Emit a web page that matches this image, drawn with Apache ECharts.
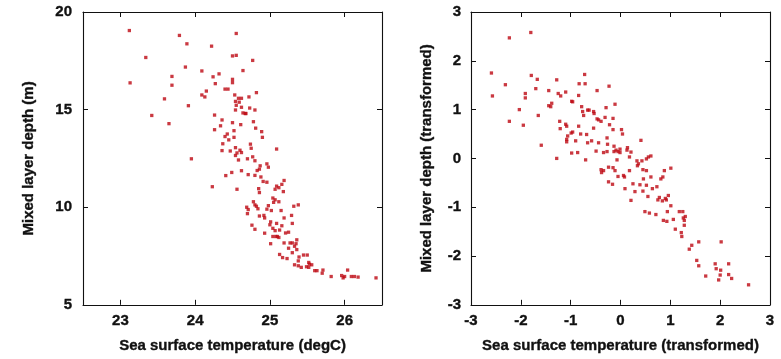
<!DOCTYPE html>
<html>
<head>
<meta charset="utf-8">
<script src="https://cdn.jsdelivr.net/npm/echarts@6/dist/echarts.min.js"></script>
<style>
  html, body { margin: 0; padding: 0; background: #ffffff; }
  #chart { width: 781px; height: 359px; }
</style>
</head>
<body>
<div id="chart"></div>
<script>
// Left panel: raw sea surface temperature (degC) vs mixed layer depth (m)
const sstRaw = [
  23.12, 23.13, 23.34, 23.42, 23.59, 23.65, 23.69, 23.69, 23.79, 23.89,
  23.87, 23.91, 23.95, 24.09, 24.09, 24.13, 24.15, 24.22, 24.24, 24.27,
  24.32, 24.26, 24.26, 24.36, 24.34, 24.40, 24.44, 24.37, 24.36, 24.40,
  24.43, 24.41, 24.23, 24.47, 24.49, 24.50, 24.50, 24.50, 24.50, 24.55,
  24.55, 24.53, 24.54, 24.55, 24.54, 24.58, 24.59, 24.62, 24.62, 24.64,
  24.67, 24.61, 24.52, 24.52, 24.54, 24.56, 24.54, 24.60, 24.62, 24.62,
  24.56, 24.64, 24.77, 24.72, 24.73, 24.80, 24.82, 24.78, 24.81, 24.89,
  24.90, 24.74, 24.75, 24.70, 24.77, 24.80, 24.71, 24.80, 24.83, 24.86,
  24.87, 24.96, 24.98, 25.09, 24.91, 24.96, 24.85, 25.07, 25.09, 25.12,
  25.16, 25.19, 25.04, 25.07, 25.05, 25.12, 25.15, 24.78, 24.80, 24.82,
  24.69, 24.71, 24.70, 24.84, 24.86, 24.92, 24.93, 24.98, 25.02, 24.76,
  24.80, 24.93, 25.01, 25.04, 25.09, 25.07, 25.04, 25.08, 25.10, 25.01,
  25.13, 25.16, 25.19, 25.19, 25.21, 25.25, 25.27, 25.30, 25.29, 25.30,
  25.32, 25.38, 25.33, 25.35, 25.36, 25.36, 25.30, 25.13, 25.17, 25.23,
  25.39, 25.45, 25.50, 25.33, 25.38, 25.42, 25.49, 25.52, 25.53, 25.56,
  25.52, 25.60, 25.63, 25.70, 25.71, 25.82, 25.96, 25.98, 26.00, 26.04,
  26.09, 26.13, 26.18, 26.42, 24.58, 24.86, 25.18, 24.68, 24.96, 25.00,
  25.12, 24.88, 24.45, 25.25, 25.38
];
const mldRaw = [
  19.05, 16.37, 17.67, 14.70, 15.55, 14.28, 16.70, 16.25, 18.80, 18.37,
  17.18, 15.20, 12.48, 16.98, 15.75, 15.65, 15.95, 18.25, 16.68, 16.33,
  16.83, 14.72, 13.97, 14.47, 14.17, 16.05, 16.05, 13.25, 12.90, 13.62,
  13.75, 11.62, 11.05, 12.88, 11.78, 14.33, 16.55, 16.38, 17.75, 17.78,
  18.90, 15.75, 15.42, 15.22, 14.98, 15.58, 15.38, 15.58, 15.12, 14.83,
  14.80, 14.23, 13.92, 13.58, 13.05, 12.78, 12.65, 12.92, 12.80, 11.87,
  10.92, 17.00, 17.52, 15.65, 15.08, 14.98, 15.87, 14.38, 14.05, 13.87,
  13.58, 13.23, 13.02, 12.48, 12.58, 12.38, 11.67, 11.63, 11.88, 11.95,
  12.12, 12.22, 12.05, 12.98, 11.32, 11.28, 10.95, 10.92, 11.08, 11.00,
  11.17, 11.37, 10.47, 10.38, 10.25, 10.28, 9.83, 10.28, 10.12, 10.05,
  10.00, 9.88, 9.67, 9.92, 9.55, 9.58, 9.45, 10.08, 9.83, 9.08,
  8.87, 8.67, 9.25, 8.92, 9.17, 8.80, 8.50, 8.50, 8.50, 8.13,
  8.83, 9.05, 9.45, 8.17, 8.68, 8.72, 8.17, 8.17, 9.58, 9.17,
  10.05, 10.12, 8.00, 8.13, 8.33, 7.83, 7.67, 7.58, 7.42, 7.37,
  7.45, 7.55, 7.55, 7.05, 7.00, 6.92, 6.95, 7.17, 7.08, 7.05,
  6.92, 6.75, 6.75, 6.62, 6.78, 6.45, 6.50, 6.38, 6.45, 6.78,
  6.45, 6.45, 6.42, 6.38, 12.42, 10.75, 10.80, 14.80, 9.90, 9.10,
  8.45, 11.55, 13.45, 7.90, 7.25
];

// Right panel: both variables after transformation
const sstTrans = [
  -1.80, -2.23, -2.59, -2.57, -2.31, -2.03, -2.23, -1.95, -1.91, -1.91,
  -1.79, -1.67, -1.70, -1.65, -1.59, -1.44, -1.44, -1.40, -1.38, -1.28,
  -1.25, -1.20, -1.10, -1.28, -1.22, -1.21, -1.10, -1.08, -1.08, -1.06,
  -1.08, -0.99, -0.96, -0.98, -0.96, -0.98, -0.90, -0.86, -0.84, -0.83,
  -0.78, -0.76, -0.74, -0.72, -0.71, -0.84, -0.80, -0.70, -0.68, -0.66,
  -0.63, -0.66, -0.58, -0.54, -0.53, -0.47, -0.47, -0.44, -0.39, -0.44,
  -0.49, -0.54, -0.29, -0.31, -0.23, -0.22, -0.15, -0.15, -0.11, -0.27,
  -0.26, -0.27, -0.34, -0.24, -0.15, -0.11, -0.13, -0.09, -0.05, -0.01,
  0.02, 0.04, -0.07, -0.01, -0.13, -0.39, -0.38, -0.34, -0.24, -0.16,
  -0.05, 0.06, 0.08, 0.13, 0.14, 0.21, 0.18, 0.09, 0.18, 0.21,
  0.25, 0.29, 0.33, 0.34, 0.36, 0.41, 0.43, 0.45, 0.46, 0.45,
  0.39, 0.52, 0.56, 0.61, 0.52, 0.52, 0.55, 0.49, 0.58, 0.61,
  0.64, 0.71, 0.73, 0.75, 0.78, 0.81, 0.85, 0.88, 0.84, 0.86,
  0.90, 0.92, 0.96, 0.94, 0.93, 1.01, 1.01, 1.06, 1.10, 1.18,
  1.22, 1.23, 1.25, 1.26, 1.30, 1.28, 1.28, 1.38, 1.43, 1.53,
  1.57, 1.57, 1.71, 1.90, 1.92, 1.97, 2.00, 2.01, 2.02, 2.17,
  2.17, 2.23, 2.57
];
const mldTrans = [
  2.58, 2.47, 1.75, 1.28, 1.51, 1.00, 0.76, 0.68, 1.33, 1.24,
  1.70, 1.62, 1.43, 0.88, 0.27, 1.39, 1.08, 1.06, 1.13, 1.61,
  1.33, 1.28, 1.36, 0.00, 0.76, 0.61, 0.70, 0.66, 0.39, 0.46,
  0.34, 0.52, 0.54, 1.17, 1.16, 0.11, 0.36, 0.12, 1.29, 1.53,
  1.06, 0.96, 0.88, 1.72, 1.53, 0.66, 0.50, -0.03, 0.49, 0.99,
  0.99, 0.32, 0.36, 0.96, 0.92, 1.39, 0.81, 0.79, 0.76, 0.32,
  0.15, 0.62, 1.04, 0.84, 1.48, 0.69, 0.82, 0.59, 1.11, 0.42,
  0.29, 0.14, 0.12, -0.18, -0.19, -0.25, 0.14, 0.17, 0.14, 0.19,
  0.59, 0.50, -0.03, 0.12, 0.25, -0.23, -0.29, -0.25, -0.48, -0.53,
  -0.37, -0.35, -0.38, 0.17, 0.22, 0.13, 0.03, -0.62, -0.25, -0.86,
  -0.52, -0.68, -0.05, -0.15, -0.11, 0.37, -0.05, -0.23, -0.42, -0.67,
  -0.54, -0.01, 0.03, 0.05, -0.25, -0.55, -0.78, -1.09, -1.12, -0.38,
  -0.62, -1.15, -0.58, -0.85, -0.80, -0.42, -0.38, -0.25, -0.87, -1.27,
  -0.82, -0.85, -0.76, -1.09, -1.29, -0.97, -0.20, -1.25, -1.45, -1.09,
  -1.52, -1.60, -1.09, -1.22, -1.19, -1.27, -1.37, -1.86, -1.78, -2.09,
  -2.20, -1.71, -2.41, -2.16, -2.26, -2.49, -2.39, -2.29, -1.71, -2.16,
  -2.38, -2.46, -2.59
];

const rawXTicks = [23, 24, 25, 26];
const transTicks = [-3, -2, -1, 0, 1, 2, 3];

const FONT = '"Liberation Sans", Arial, Helvetica, sans-serif';
const INK = '#111111';
const POINT = '#bd0812';

const pairs = (xs, ys) => xs.map((x, i) => [x, ys[i]]);

// Heavy bold text, slightly thickened with a thin outline of the same ink
const textStyle = {
  color: INK, fontFamily: FONT, fontWeight: 'bold', fontSize: 15,
  textBorderColor: INK, textBorderWidth: 0.35
};

function frameAxis(base, opts) {
  return Object.assign({
    type: 'value',
    axisLine: { show: true, onZero: false, lineStyle: { color: INK, width: 1.1 } },
    axisTick: { show: true, inside: true, length: 5, lineStyle: { color: INK, width: 1 } },
    splitLine: { show: false },
    axisLabel: Object.assign({}, textStyle),
    nameTextStyle: Object.assign({}, textStyle)
  }, base, opts);
}

const chart = echarts.init(document.getElementById('chart'), null, { renderer: 'canvas' });

chart.setOption({
  animation: false,
  backgroundColor: '#ffffff',
  grid: [
    { left: 83, right: 399, top: 12, bottom: 49 },
    { left: 471, right: 11, top: 12, bottom: 49 }
  ],
  xAxis: [
    frameAxis({ gridIndex: 0, position: 'bottom', min: 22.5, max: 26.5 }, {
      axisTick: { show: true, inside: true, length: 5, customValues: rawXTicks, lineStyle: { color: INK } },
      axisLabel: Object.assign({ customValues: rawXTicks, margin: 9 }, textStyle),
      name: 'Sea surface temperature (degC)', nameLocation: 'middle', nameGap: 34
    }),
    frameAxis({ gridIndex: 0, position: 'top', min: 22.5, max: 26.5 }, {
      axisTick: { show: true, inside: true, length: 5, customValues: rawXTicks, lineStyle: { color: INK } },
      axisLabel: { show: false }
    }),
    frameAxis({ gridIndex: 1, position: 'bottom', min: -3, max: 3, interval: 1 }, {
      axisLabel: Object.assign({ customValues: transTicks, margin: 9 }, textStyle),
      axisTick: { show: true, inside: true, length: 5, customValues: transTicks, lineStyle: { color: INK } },
      name: 'Sea surface temperature (transformed)', nameLocation: 'middle', nameGap: 34
    }),
    frameAxis({ gridIndex: 1, position: 'top', min: -3, max: 3, interval: 1 }, {
      axisLabel: { show: false }
    })
  ],
  yAxis: [
    frameAxis({ gridIndex: 0, position: 'left', min: 5, max: 20, interval: 5 }, {
      axisLabel: Object.assign({ margin: 11 }, textStyle),
      name: 'Mixed layer depth (m)', nameLocation: 'middle', nameGap: 47
    }),
    frameAxis({ gridIndex: 0, position: 'right', min: 5, max: 20, interval: 5 }, {
      axisLabel: { show: false }
    }),
    frameAxis({ gridIndex: 1, position: 'left', min: -3, max: 3, interval: 1 }, {
      axisLabel: Object.assign({ margin: 10 }, textStyle),
      name: 'Mixed layer depth (transformed)', nameLocation: 'middle', nameGap: 37
    }),
    frameAxis({ gridIndex: 1, position: 'right', min: -3, max: 3, interval: 1 }, {
      axisLabel: { show: false }
    })
  ],
  series: [
    {
      type: 'scatter', xAxisIndex: 0, yAxisIndex: 0,
      data: pairs(sstRaw, mldRaw),
      symbol: 'rect', symbolSize: 3.3,
      itemStyle: { color: POINT }
    },
    {
      type: 'scatter', xAxisIndex: 2, yAxisIndex: 2,
      data: pairs(sstTrans, mldTrans),
      symbol: 'rect', symbolSize: 3.3,
      itemStyle: { color: POINT }
    }
  ]
});
</script>
</body>
</html>
